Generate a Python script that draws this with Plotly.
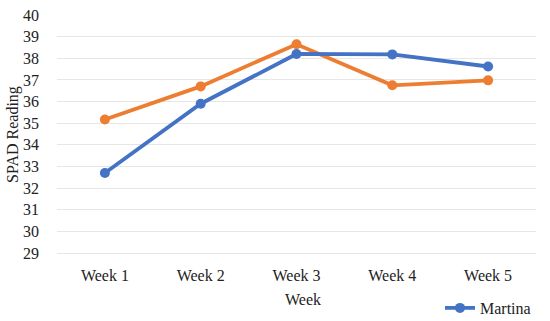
import plotly.graph_objects as go

weeks = ["Week 1", "Week 2", "Week 3", "Week 4", "Week 5"]
martina = [32.7, 35.9, 38.2, 38.18, 37.62]
other = [35.17, 36.7, 38.65, 36.75, 36.98]

FONT = "Palatino Linotype, Book Antiqua, Palatino, Liberation Serif, serif"

fig = go.Figure()
fig.add_trace(go.Scatter(
    x=weeks, y=other, mode="lines+markers", name="Series 2", showlegend=False,
    line=dict(color="#ED7D31", width=3.8), marker=dict(size=10, color="#ED7D31")))
fig.add_trace(go.Scatter(
    x=weeks, y=martina, mode="lines+markers", name="Martina",
    line=dict(color="#4472C4", width=3.8), marker=dict(size=10, color="#4472C4")))

fig.update_layout(
    width=550, height=321,
    margin=dict(l=57, r=14, t=15, b=68, autoexpand=False),
    paper_bgcolor="white", plot_bgcolor="white",
    font=dict(family=FONT, size=16, color="#222"),
    xaxis=dict(
        range=[-0.5, 4.5], automargin=False,
        showgrid=False, showline=True, linecolor="#e6e6e6", zeroline=False, ticks="",
        ticklabelstandoff=8,
    ),
    yaxis=dict(
        range=[29, 40], dtick=1, showgrid=True, gridcolor="#e6e6e6", gridwidth=1,
        automargin=False, ticklabeloverflow="allow",
        zeroline=False, showline=False, ticks="", ticklabelstandoff=17,
    ),
    legend=dict(orientation="h", x=1.0, xanchor="right", y=-0.231, yanchor="middle",
                font=dict(size=16), bgcolor="rgba(0,0,0,0)"),
    annotations=[
        dict(text="Week", xref="paper", yref="paper", x=0.514, y=-0.197,
             xanchor="center", yanchor="middle", showarrow=False, font=dict(size=16)),
        dict(text="SPAD Reading", xref="paper", yref="paper", x=-0.092, y=0.5,
             xanchor="center", yanchor="middle", textangle=-90, showarrow=False,
             font=dict(size=16)),
    ],
)

fig.write_html("out.html", config={"displayModeBar": False},
               post_script="document.body.style.margin='0';")
